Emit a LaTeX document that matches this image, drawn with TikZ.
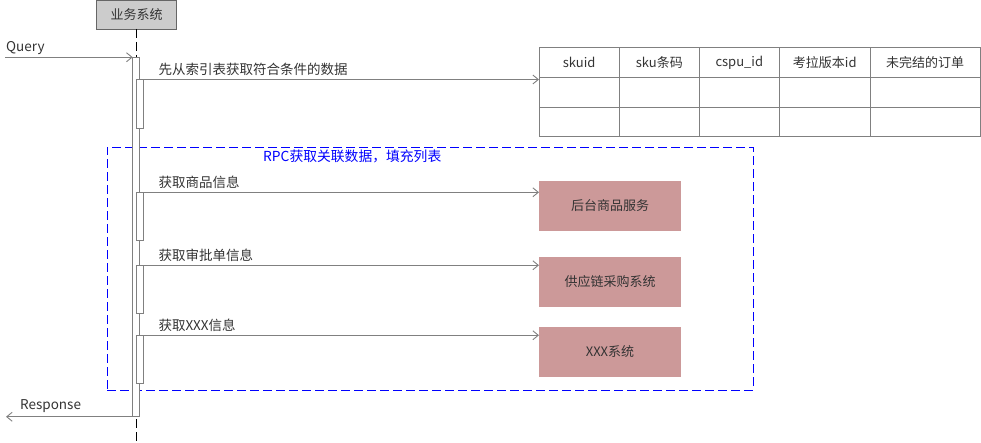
\documentclass[tikz,border=0pt]{standalone}
\usepackage{fontspec}
\setmainfont{Noto Sans CJK SC}
\usetikzlibrary{positioning,arrows.meta}
\definecolor{lineGray}{RGB}{128,128,128}
\definecolor{textGray}{RGB}{51,51,51}
\definecolor{headBorder}{RGB}{102,102,102}
\definecolor{headFill}{RGB}{204,204,204}
\definecolor{svcFill}{RGB}{204,153,153}
\definecolor{rpcBlue}{RGB}{0,0,255}

\begin{document}
\begin{tikzpicture}[x=1pt, y=-1pt,
    >={Straight Barb[length=5.5pt,width=9pt]},
    msg/.style={->, draw=lineGray, line width=0.9pt},
    bar/.style={draw=lineGray, fill=white, line width=0.9pt, inner sep=0pt, outer sep=0pt,
      minimum width=7pt, minimum height=48.5pt},
    lbl/.style={inner sep=0pt, text=textGray, font=\fontsize{13.5}{16}\selectfont},
    cell/.style={inner sep=0pt, text=textGray, font=\fontsize{13}{16}\selectfont},
    svc/.style={fill=svcFill, inner sep=0pt, outer sep=0pt, minimum width=142pt,
      minimum height=50pt, text=textGray, font=\fontsize{13}{16}\selectfont}]
    \useasboundingbox (0,0) rectangle (981,443);

    \node[draw=headBorder, fill=headFill, line width=0.9pt, minimum width=80pt,
      minimum height=28.5pt, inner sep=0pt, outer sep=0pt, text=textGray,
      font=\fontsize{13}{16}\selectfont] (System) at (136.5,14.75) {业务系统};
    \coordinate (LifeEnd) at (136.5,443);
    \draw[black, line width=0.9pt, dash pattern=on 9pt off 4pt] (System.south) -- (LifeEnd);

    \node[draw=rpcBlue, line width=0.9pt, dash pattern=on 9pt off 4pt, minimum width=646pt,
      minimum height=243pt, inner sep=0pt, outer sep=0pt] (Frame) at (430,268.7) {};
    \node[lbl, text=rpcBlue, font=\fontsize{13.8}{16}\selectfont,
      below right=14pt and 156pt of Frame.north west, anchor=base west] (FrameText) {RPC获取关联数据，填充列表};

    \node[bar, minimum width=6.6pt, minimum height=359.5pt] (Main) at (136,237) {};
    \node[bar] (ActIndex) at (139.8,103.75) {};
    \node[bar] (ActGoods) at (139.8,216.55) {};
    \node[bar] (ActAudit) at (139.8,289.5) {};
    \node[bar] (ActXxx) at (139.8,359.5) {};

    \coordinate (QueryStart) at (5,57.25);
    \draw[msg] (QueryStart) -- (Main.north west);
    \node[lbl, above right=6pt and 1pt of QueryStart, anchor=base west] (QueryText) {Query};

    \coordinate (RespEnd) at (6,416.75);
    \draw[msg] (Main.south west) -- (RespEnd);
    \node[lbl, above right=7pt and 14pt of RespEnd, anchor=base west] (RespText) {Response};

    \node[draw=lineGray, line width=0.9pt, minimum width=441pt, minimum height=88.7pt,
      inner sep=0pt, outer sep=0pt] (Table) at (759.5,91.65) {};
    \draw[lineGray, line width=0.9pt]
      ([yshift=-30pt]Table.north west) -- ([yshift=-30pt]Table.north east)
      ([yshift=-60pt]Table.north west) -- ([yshift=-60pt]Table.north east);
    \foreach \d in {619.3,699.3,779.3,870.3}
      \draw[lineGray, line width=0.9pt] (\d,0 |- Table.north) -- (\d,0 |- Table.south);
    \foreach \l/\r/\txt [count=\i] in {539/619.3/skuid, 619.3/699.3/sku条码,
        699.3/779.3/cspu\_id, 779.3/870.3/考拉版本id, 870.3/980/未完结的订单}
      \node[cell] (Head\i) at ({(\l+\r)/2},62.8) {\txt};

    \draw[msg] (ActIndex.north east) -- (ActIndex.north east -| Table.west);
    \node[lbl, above right=4.5pt and 15pt of ActIndex.north east, anchor=base west] (IndexText) {先从索引表获取符合条件的数据};

    \node[svc] (Goods) at (610,206) {后台商品服务};
    \node[svc, below=26pt of Goods] (Supply) {供应链采购系统};
    \node[svc, below=20pt of Supply] (XxxSys) {XXX系统};

    \draw[msg] (ActGoods.north east) -- (ActGoods.north east -| Goods.west);
    \node[lbl, above right=4.5pt and 15pt of ActGoods.north east, anchor=base west] (GoodsText) {获取商品信息};
    \draw[msg] (ActAudit.north east) -- (ActAudit.north east -| Supply.west);
    \node[lbl, above right=4.5pt and 15pt of ActAudit.north east, anchor=base west] (AuditText) {获取审批单信息};
    \draw[msg] (ActXxx.north east) -- (ActXxx.north east -| XxxSys.west);
    \node[lbl, above right=4.5pt and 15pt of ActXxx.north east, anchor=base west] (XxxText) {获取XXX信息};
\end{tikzpicture}
\end{document}
